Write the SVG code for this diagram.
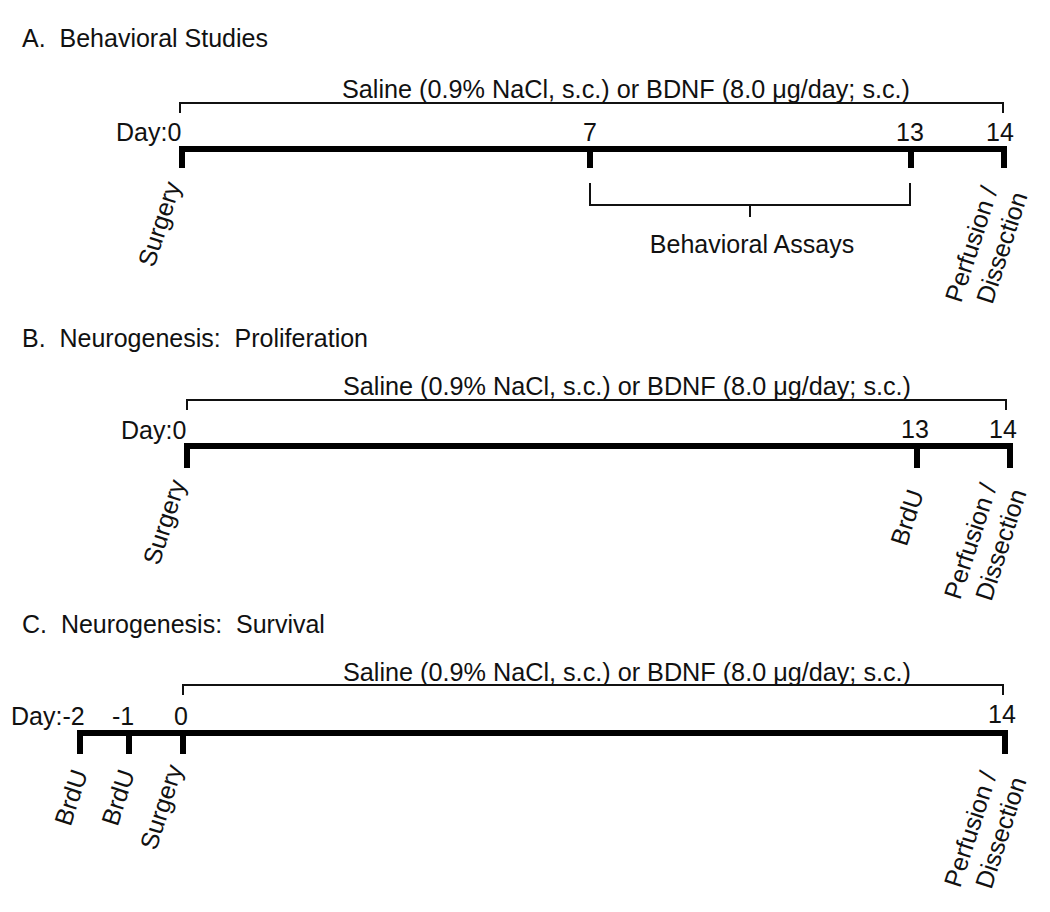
<svg xmlns="http://www.w3.org/2000/svg" width="1050" height="912" viewBox="0 0 1050 912">
<style>
text{font-family:"Liberation Sans",Arial,sans-serif;font-size:25px;fill:#111;white-space:pre}
.c{text-anchor:middle}
.e{text-anchor:end}
.br{fill:none;stroke:#111;stroke-width:2}
.bar{fill:#000}
</style>
<rect width="1050" height="912" fill="#fff"/>
<!-- Panel A -->
<g id="panelA">
<text x="22" y="47" xml:space="preserve">A.  Behavioral Studies</text>
<text x="342" y="98" textLength="568" lengthAdjust="spacingAndGlyphs">Saline (0.9% NaCl, s.c.) or BDNF (8.0 μg/day; s.c.)</text>
<text x="116" y="141">Day:0</text>
<text class="c" x="590" y="141">7</text>
<text class="c" x="910" y="141">13</text>
<text class="c" x="1000" y="141">14</text>
<text class="c" x="752" y="253">Behavioral Assays</text>
<text class="e" transform="translate(181,185) rotate(-72)">Surgery</text>
<text class="e" transform="translate(998,190) rotate(-72)"><tspan x="0" y="0">Perfusion /</tspan><tspan x="4" y="30">Dissection</tspan></text>
</g>
<g id="connectorsA">
<path class="br" d="M180,113 V103 H1003 V113"/>
<rect class="bar" x="179" y="146" width="828" height="6"/>
<rect class="bar" x="179" y="146" width="6" height="22"/>
<rect class="bar" x="587" y="146" width="6" height="22"/>
<rect class="bar" x="908" y="146" width="6" height="22"/>
<rect class="bar" x="1001" y="146" width="6" height="22"/>
<path class="br" d="M590,183 V205 H910 V183 M750,205 V217"/>
</g>
<!-- Panel B -->
<g id="panelB">
<text x="22" y="347" xml:space="preserve">B.  Neurogenesis:  Proliferation</text>
<text x="343" y="395" textLength="568" lengthAdjust="spacingAndGlyphs">Saline (0.9% NaCl, s.c.) or BDNF (8.0 μg/day; s.c.)</text>
<text x="121" y="439">Day:0</text>
<text class="c" x="915" y="438">13</text>
<text class="c" x="1003" y="438">14</text>
<text class="e" transform="translate(186,483) rotate(-72)">Surgery</text>
<text class="e" transform="translate(924,493) rotate(-72)">BrdU</text>
<text class="e" transform="translate(997,487) rotate(-72)"><tspan x="0" y="0">Perfusion /</tspan><tspan x="4" y="30">Dissection</tspan></text>
</g>
<g id="connectorsB">
<path class="br" d="M187,410 V400 H1006 V410"/>
<rect class="bar" x="184" y="443" width="829" height="6"/>
<rect class="bar" x="184" y="443" width="6" height="25"/>
<rect class="bar" x="914" y="443" width="6" height="25"/>
<rect class="bar" x="1007" y="443" width="6" height="25"/>
</g>
<!-- Panel C -->
<g id="panelC">
<text x="22" y="633" xml:space="preserve">C.  Neurogenesis:  Survival</text>
<text x="343" y="681" textLength="568" lengthAdjust="spacingAndGlyphs">Saline (0.9% NaCl, s.c.) or BDNF (8.0 μg/day; s.c.)</text>
<text x="11" y="725">Day:-2</text>
<text class="c" x="123" y="725">-1</text>
<text class="c" x="181" y="725">0</text>
<text class="c" x="1002" y="723">14</text>
<text class="e" transform="translate(88,773) rotate(-72)">BrdU</text>
<text class="e" transform="translate(135,773) rotate(-72)">BrdU</text>
<text class="e" transform="translate(183,768) rotate(-72)">Surgery</text>
<text class="e" transform="translate(997,775) rotate(-72)"><tspan x="0" y="0">Perfusion /</tspan><tspan x="4" y="30">Dissection</tspan></text>
</g>
<g id="connectorsC">
<path class="br" d="M183,695 V685 H1003 V695"/>
<rect class="bar" x="77" y="730" width="931" height="6"/>
<rect class="bar" x="77" y="730" width="6" height="24"/>
<rect class="bar" x="126" y="730" width="6" height="24"/>
<rect class="bar" x="180" y="730" width="6" height="24"/>
<rect class="bar" x="1002" y="730" width="6" height="24"/>
</g>
</svg>
